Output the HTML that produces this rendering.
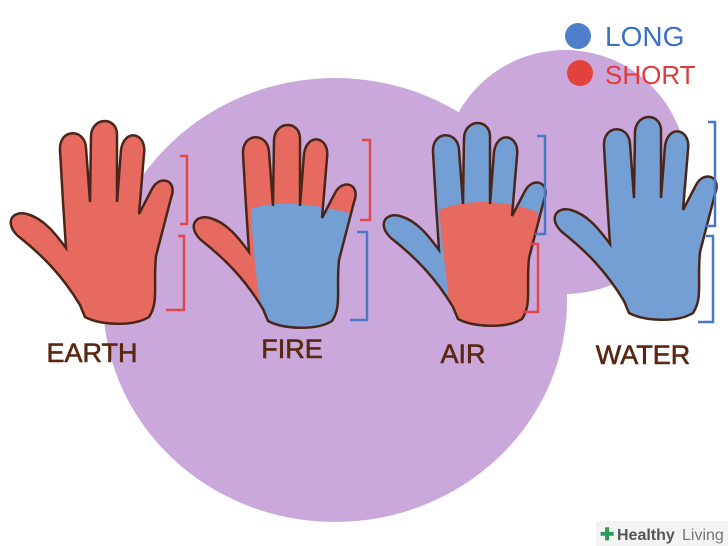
<!DOCTYPE html>
<html><head><meta charset="utf-8"><style>
html,body{margin:0;padding:0;background:#fff;}
svg{display:block;}
text{font-family:"Liberation Sans",sans-serif;}
</style></head><body>
<svg width="728" height="546" viewBox="0 0 728 546" xmlns="http://www.w3.org/2000/svg">
<defs>
<path id="hand" d="M80,305 C62,275 42,255 18,236 C4,223 12,210 27,214 C45,219 57,236 66,248 L63,202 L60,150 C59,128 85,128 86,148 L90,202 L91,136 C92,116 118,116 117,136 L117,202 L121,150 C124,128 147,132 144,154 L139,214 L152,189 C160,174 178,180 171,198 L156,256 C153,286 159,302 149,317 C133,327 100,325 85,317 Z"/>
<clipPath id="hc"><use href="#hand"/></clipPath>
</defs>
<ellipse cx="335" cy="300" rx="232" ry="222" fill="#caa8dc"/>
<circle cx="565" cy="172" r="122" fill="#caa8dc"/>

<g>
<use href="#hand" fill="#e76a60"/>
<use href="#hand" fill="none" stroke="#4a2618" stroke-width="2.5"/>
</g>
<g transform="translate(183,4)">
<use href="#hand" fill="#e76a60"/>
<g clip-path="url(#hc)"><path d="M68,205 C95,195 130,200 170,210 L170,330 L82,330 C75,290 70,250 68,205 Z" fill="#739fd4"/></g>
<use href="#hand" fill="none" stroke="#4a2618" stroke-width="2.5"/>
</g>
<g transform="translate(373,2)">
<use href="#hand" fill="#739fd4"/>
<g clip-path="url(#hc)"><path d="M66,208 C95,196 130,198 165,210 L165,330 L80,330 C75,290 70,250 66,208 Z" fill="#e76a60"/></g>
<use href="#hand" fill="none" stroke="#4a2618" stroke-width="2.5"/>
</g>
<g transform="translate(544,-4)">
<use href="#hand" fill="#739fd4"/>
<use href="#hand" fill="none" stroke="#4a2618" stroke-width="2.5"/>
</g>

<g fill="none" stroke-width="2.5">
<path d="M180,156 H187 V224 H180" stroke="#e04848"/>
<path d="M178,236 H184 V310 H166" stroke="#e04848"/>
<path d="M362,140 H370 V220 H360" stroke="#e04848"/>
<path d="M357,232 H367 V320 H350" stroke="#4a78c8"/>
<path d="M537,136 H545 V234 H535" stroke="#4a78c8"/>
<path d="M530,244 H538 V312 H522" stroke="#e04848"/>
<path d="M708,122 H715 V226 H706" stroke="#4a78c8"/>
<path d="M706,236 H713 V322 H698" stroke="#4a78c8"/>
</g>

<g fill="#5a2810" font-size="27" text-anchor="middle" stroke="#5a2810" stroke-width="0.6">
<text x="92" y="362">EARTH</text>
<text x="292" y="358">FIRE</text>
<text x="463" y="363">AIR</text>
<text x="643" y="364">WATER</text>
</g>

<circle cx="578" cy="36" r="13" fill="#4e7fcc"/>
<circle cx="580" cy="73" r="13" fill="#e2423c"/>
<text x="605" y="46" font-size="28" fill="#3d6fc4">LONG</text>
<text x="605" y="84" font-size="26" fill="#e03a3a">SHORT</text>

<rect x="596" y="521" width="132" height="25" fill="#f2f2f2" opacity="0.9"/>
<text x="600" y="540" font-size="17" fill="#2e9a5a" font-weight="bold">✚</text>
<text x="617" y="540" font-size="16" fill="#555" font-weight="bold">Healthy</text>
<text x="682" y="540" font-size="16" fill="#777">Living</text>
</svg>
</body></html>
